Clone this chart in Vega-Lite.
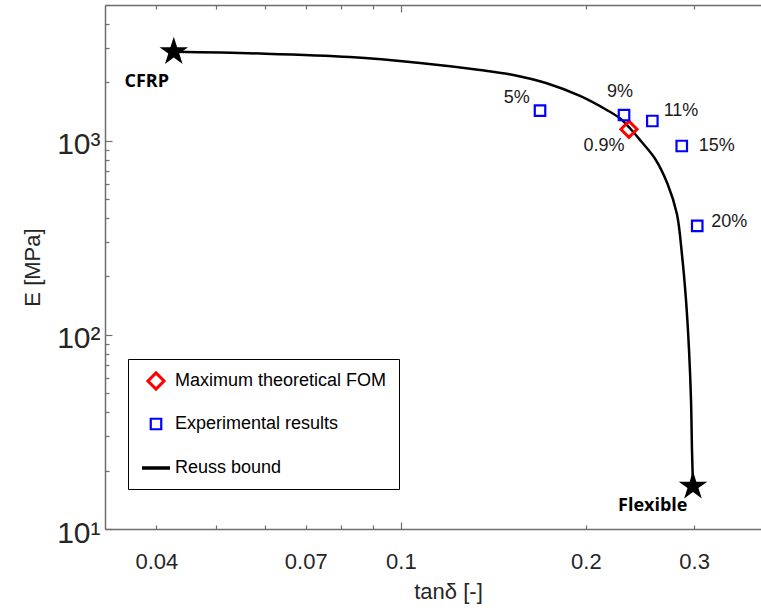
{
  "$schema": "https://vega.github.io/schema/vega-lite/v6.json",
  "width": 656,
  "height": 524,
  "autosize": {"type": "none"},
  "padding": {"left": 105, "top": 5, "right": 0, "bottom": 82},
  "background": "white",
  "config": {"view": {"stroke": null}, "font": "Liberation Sans"},
  "datasets": {
    "reuss": [
      {"tan": 0.0427, "E": 2870}, {"tan": 0.0590, "E": 2813}, {"tan": 0.0826, "E": 2699},
      {"tan": 0.1074, "E": 2514}, {"tan": 0.1345, "E": 2314}, {"tan": 0.1524, "E": 2180},
      {"tan": 0.1727, "E": 1976}, {"tan": 0.1956, "E": 1700}, {"tan": 0.2162, "E": 1440},
      {"tan": 0.2272, "E": 1304}, {"tan": 0.2359, "E": 1159}, {"tan": 0.2455, "E": 1000},
      {"tan": 0.2590, "E": 810}, {"tan": 0.2715, "E": 600}, {"tan": 0.2812, "E": 420},
      {"tan": 0.2866, "E": 260}, {"tan": 0.2910, "E": 151}, {"tan": 0.2943, "E": 83.6},
      {"tan": 0.2965, "E": 46.2}, {"tan": 0.2976, "E": 25.5}, {"tan": 0.2987, "E": 16.6}
    ],
    "ends": [
      {"tan": 0.0427, "E": 2870}, {"tan": 0.2987, "E": 16.6}
    ],
    "points": [
      {"tan": 0.2350, "E": 1145, "series": "Maximum theoretical FOM"},
      {"tan": 0.1684, "E": 1428, "series": "Experimental results"},
      {"tan": 0.2307, "E": 1356, "series": "Experimental results"},
      {"tan": 0.2565, "E": 1263, "series": "Experimental results"},
      {"tan": 0.2864, "E": 939, "series": "Experimental results"},
      {"tan": 0.3035, "E": 364, "series": "Experimental results"}
    ],
    "pct": [
      {"tan": 0.1543, "E": 1654, "text": "5%"},
      {"tan": 0.2272, "E": 1776, "text": "9%"},
      {"tan": 0.2856, "E": 1428, "text": "11%"},
      {"tan": 0.3264, "E": 939, "text": "15%"},
      {"tan": 0.3422, "E": 383, "text": "20%"},
      {"tan": 0.2140, "E": 939, "text": "0.9%"}
    ],
    "names": [
      {"tan": 0.03858, "E": 2014, "text": "CFRP"},
      {"tan": 0.2569, "E": 13.1, "text": "Flexible"}
    ]
  },
  "encoding": {
    "x": {"field": "tan", "type": "quantitative", "scale": {"type": "log", "domain": [0.033, 0.3854], "nice": false}, "axis": null},
    "y": {
      "field": "E", "type": "quantitative",
      "scale": {"type": "log", "domain": [10, 5000], "nice": false},
      "axis": {
        "values": [10, 20, 30, 40, 50, 60, 70, 80, 90, 100, 200, 300, 400, 500, 600, 700, 800, 900, 1000, 2000, 3000, 4000, 5000],
        "labelExpr": "datum.value == 10 ? '10¹' : datum.value == 100 ? '10²' : datum.value == 1000 ? '10³' : ''",
        "labelFontSize": 30, "labelFont": "Liberation Sans", "labelColor": "#262626",
        "labelPadding": 12, "labelOverlap": false, "labelFlush": false, "labelOffset": 4,
        "tickSize": {"condition": {"test": "datum.value == 10 || datum.value == 100 || datum.value == 1000", "value": -7}, "value": -4},
        "tickColor": "#6e6e6e", "tickWidth": 1.2,
        "domainColor": "#6e6e6e", "domainWidth": 1.5, "grid": false,
        "title": "E [MPa]", "titleFontSize": 22, "titleFont": "Liberation Sans", "titleFontWeight": "normal", "titleColor": "#262626", "titlePadding": 12
      }
    }
  },
  "layer": [
    {
      "data": {"name": "reuss"},
      "mark": {"type": "line", "color": "black", "strokeWidth": 2.5, "interpolate": "catmull-rom"},
      "encoding": {
        "x": {
          "field": "tan", "type": "quantitative", "scale": {"type": "log", "domain": [0.033, 0.3854], "nice": false},
          "axis": {
            "orient": "bottom",
            "values": [0.04, 0.05, 0.06, 0.07, 0.08, 0.09, 0.1, 0.2, 0.3],
            "format": "~g",
            "labelExpr": "(datum.value == 0.05 || datum.value == 0.06 || datum.value == 0.08 || datum.value == 0.09) ? '' : datum.label",
            "labelFontSize": 22, "labelFont": "Liberation Sans", "labelColor": "#262626",
            "labelPadding": {"condition": {"test": "datum.value == 0.1", "value": 29}, "value": 26},
            "labelOverlap": false, "labelFlush": false,
            "tickSize": {"condition": {"test": "datum.value == 0.1", "value": -7}, "value": -4},
            "tickColor": "#6e6e6e", "tickWidth": 1.2,
            "domainColor": "#6e6e6e", "domainWidth": 1.5, "grid": false,
            "title": "tanδ [-]", "titleFontSize": 22, "titleFont": "Liberation Sans", "titleFontWeight": "normal", "titleColor": "#262626",
            "titleX": 343, "titleY": 52
          }
        }
      }
    },
    {
      "data": {"name": "ends"},
      "mark": {"type": "point", "shape": "M0,-1L0.2245,-0.309L0.951,-0.309L0.3633,0.118L0.5878,0.809L0,0.382L-0.5878,0.809L-0.3633,0.118L-0.951,-0.309L-0.2245,-0.309Z", "filled": true, "color": "black", "size": 900, "opacity": 1},
      "encoding": {
        "x": {
          "field": "tan", "type": "quantitative", "scale": {"type": "log", "domain": [0.033, 0.3854], "nice": false},
          "axis": {
            "orient": "top",
            "values": [0.04, 0.05, 0.06, 0.07, 0.08, 0.09, 0.1, 0.2, 0.3],
            "labels": false,
            "tickSize": {"condition": {"test": "datum.value == 0.1", "value": -7}, "value": -4},
            "tickColor": "#6e6e6e", "tickWidth": 1.2,
            "domainColor": "#6e6e6e", "domainWidth": 1.5, "grid": false,
            "title": null
          }
        }
      }
    },
    {
      "data": {"name": "points"},
      "mark": {"type": "point", "filled": false, "opacity": 1},
      "encoding": {
        "color": {
          "field": "series", "type": "nominal",
          "scale": {"domain": ["Maximum theoretical FOM", "Experimental results", "Reuss bound"], "range": ["#ff0000", "#0000ff", "#000000"]},
          "legend": {
            "orient": "none", "legendX": 23, "legendY": 354, "title": null,
            "strokeColor": "black", "fillColor": "white", "padding": 12,
            "labelFontSize": 18, "labelFont": "Liberation Sans", "labelColor": "black", "labelLimit": 400,
            "labelOffset": 3, "rowPadding": 18
          }
        },
        "shape": {
          "field": "series", "type": "nominal",
          "scale": {"domain": ["Maximum theoretical FOM", "Experimental results", "Reuss bound"], "range": ["diamond", "square", "stroke"]}
        },
        "size": {
          "field": "series", "type": "nominal",
          "scale": {"type": "ordinal", "domain": ["Maximum theoretical FOM", "Experimental results", "Reuss bound"], "range": [260, 110, 784]}
        },
        "strokeWidth": {
          "field": "series", "type": "nominal",
          "scale": {"type": "ordinal", "domain": ["Maximum theoretical FOM", "Experimental results", "Reuss bound"], "range": [3, 2.2, 3.5]}
        }
      }
    },
    {
      "data": {"name": "pct"},
      "mark": {"type": "text", "font": "Liberation Sans", "fontSize": 18, "color": "#1a1a1a", "align": "center", "baseline": "middle"},
      "encoding": {"text": {"field": "text", "type": "nominal"}}
    },
    {
      "data": {"name": "names"},
      "mark": {"type": "text", "font": "Open Sans", "fontWeight": "bold", "fontSize": 18, "color": "black", "align": "center", "baseline": "middle"},
      "encoding": {"text": {"field": "text", "type": "nominal"}}
    }
  ],
  "resolve": {"axis": {"x": "independent"}}
}
